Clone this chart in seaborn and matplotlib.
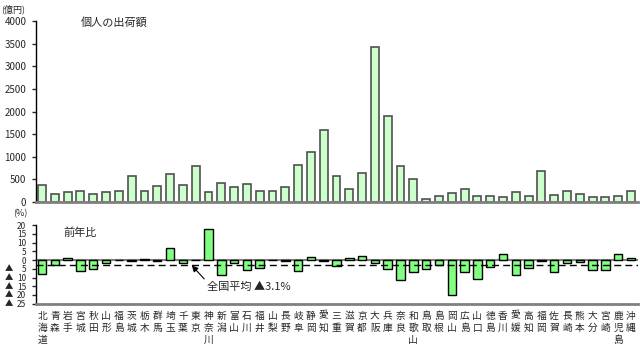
import numpy as np
import pandas as pd
import matplotlib
matplotlib.use("Agg")
import matplotlib.pyplot as plt
import matplotlib.transforms as mtransforms
import seaborn as sns

prefs = ['北海道', '青森', '岩手', '宮城', '秋田', '山形', '福島', '茨城', '栃木', '群馬',
         '埼玉', '千葉', '東京', '神奈川', '新潟', '富山', '石川', '福井', '山梨', '長野',
         '岐阜', '静岡', '愛知', '三重', '滋賀', '京都', '大阪', '兵庫', '奈良', '和歌山',
         '鳥取', '島根', '岡山', '広島', '山口', '徳島', '香川', '愛媛', '高知', '福岡',
         '佐賀', '長崎', '熊本', '大分', '宮崎', '鹿児島', '沖縄']

# 個人の出荷額 (億円)
shipments = [370, 170, 225, 240, 190, 225, 240, 570, 240, 350,
             620, 370, 805, 225, 420, 325, 405, 250, 250, 325,
             820, 1115, 1585, 580, 285, 650, 3420, 1900, 800, 520,
             75, 125, 205, 295, 140, 125, 110, 220, 140, 690,
             160, 250, 190, 110, 110, 145, 235]

# 前年比 (%)
growth = [-8.0, -3.0, 1.0, -6.1, -5.0, -1.9, 0.1, -0.7, 0.8, -0.4,
          7.0, -1.9, 0.1, 17.5, -8.3, -1.5, -5.6, -4.8, 0.3, -0.6,
          -6.5, 1.5, -0.6, -3.3, 0.9, 2.4, -1.5, -5.2, -11.5, -6.7,
          -5.4, -3.0, -19.8, -6.9, -10.7, -3.9, 3.3, -8.5, -4.4, -0.7,
          -7.0, -1.9, -1.1, -5.7, -5.7, 3.7, 1.3]

national_avg = -3.1

top_ticks = [0, 500, 1000, 1500, 2000, 2500, 3000, 3500, 4000]
low_ticks = [-25, -20, -15, -10, -5, 0, 5, 10, 15, 20]

df = pd.DataFrame({'pref': prefs, 'ship': shipments, 'growth': growth})

sns.set_style("white")
plt.rcParams['font.family'] = ['Noto Sans CJK JP', 'DejaVu Sans']

fig = plt.figure(figsize=(6.4, 3.59), dpi=100)
ax1 = fig.add_axes([0.0563, 0.437, 0.9406, 0.5045])
ax2 = fig.add_axes([0.0563, 0.154, 0.9406, 0.219])

xlim = (-0.47, 46.55)

# upper panel
sns.barplot(data=df, x='pref', y='ship', order=prefs, color='#ccffcc', saturation=1,
            width=0.62, edgecolor='#505050', linewidth=1.2, ax=ax1)
ax1.set_xlim(*xlim)
ax1.set_ylim(0, 4000)
ax1.set_yticks(top_ticks)
ax1.set_yticklabels([str(t) for t in top_ticks], fontsize=7)
ax1.set_xticks([])
ax1.set_xlabel('')
ax1.set_ylabel('')
for s in ['top', 'right']:
    ax1.spines[s].set_visible(False)
ax1.spines['left'].set_color('black')
ax1.spines['left'].set_linewidth(1)
ax1.spines['bottom'].set_color('#808080')
ax1.spines['bottom'].set_linewidth(2)
ax1.tick_params(axis='y', direction='out', length=3, width=1, pad=4, left=True)
fig.text(0.002, 0.975, '(億円)', fontsize=6.5, ha='left', va='center')
ax1.text(0.13, 0.995, '個人の出荷額', transform=ax1.transAxes, fontsize=8, ha='center', va='center')

# lower panel
sns.barplot(data=df, x='pref', y='growth', order=prefs, color='#80ff80', saturation=1,
            width=0.66, edgecolor='black', linewidth=1, ax=ax2)
ax2.set_xlim(*xlim)
ax2.set_ylim(-25, 20)
ax2.axhline(0, color='#808080', lw=1.5, zorder=0.5)
ax2.axhline(national_avg, color='black', lw=1, ls=(0, (5, 3)), zorder=3)
ax2.set_yticks(low_ticks)
ax2.set_yticklabels([str(abs(t)) for t in low_ticks], fontsize=6)
trans = mtransforms.blended_transform_factory(fig.transFigure, ax2.transData)
for t in low_ticks:
    if t < 0:
        ax2.text(0.021, t, '▲', transform=trans, fontsize=6, ha='right', va='center')
ax2.set_xticks(range(len(prefs)))
ax2.set_xticklabels(['\n'.join(p) for p in prefs], fontsize=7, linespacing=1.25, va='top')
ax2.tick_params(axis='x', length=0, pad=5)
ax2.tick_params(axis='y', direction='out', length=3, width=1, pad=4, left=True)
ax2.set_xlabel('')
ax2.set_ylabel('')
for s in ['top', 'right']:
    ax2.spines[s].set_visible(False)
ax2.spines['left'].set_color('black')
ax2.spines['left'].set_linewidth(1)
ax2.spines['bottom'].set_color('#808080')
ax2.spines['bottom'].set_linewidth(2)
fig.text(0.031, 0.405, '(%)', fontsize=6.5, ha='center', va='center')
ax2.text(0.045, 0.9, '前年比', transform=ax2.transAxes, fontsize=8, ha='left', va='center')

ax2.annotate('全国平均 ▲3.1%', xy=(11.7, national_avg), xytext=(12.9, -15.6),
             fontsize=8, ha='left', va='center',
             arrowprops=dict(arrowstyle='-|>', color='black', lw=0.8, mutation_scale=9,
                             shrinkA=0, shrinkB=0, relpos=(0, 1)))

fig.savefig('out.png', dpi=100)
